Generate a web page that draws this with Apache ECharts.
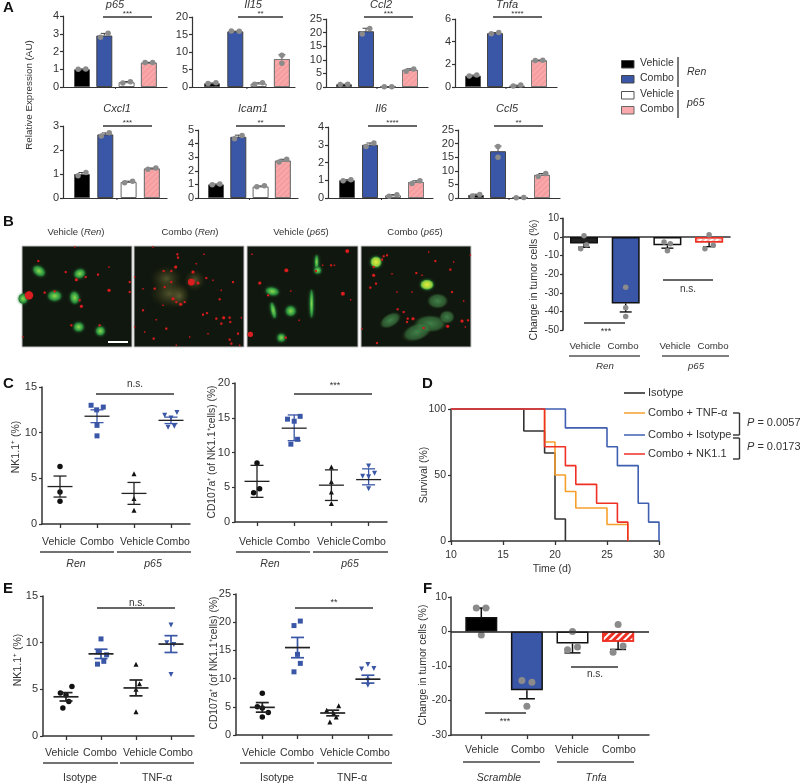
<!DOCTYPE html>
<html><head><meta charset="utf-8">
<style>html,body{margin:0;padding:0;background:#fff}#c{width:800px;height:784px}</style>
<script src="https://cdn.jsdelivr.net/npm/echarts@6/dist/echarts.min.js"></script>
</head><body><div id="c"></div>
<script>
// ---------- DATA ----------
const p65Means=[1,2.9,0.27,1.37], p65Errs=[0.02,0.12,0.04,0.02];
const p65Pts=[[.83,1],[1.17,1.02],[1.83,2.8],[2.17,3.03],[2.83,.22],[3.17,.3],[3.83,1.38],[4.17,1.38]];
const il15Means=[1.05,15.9,1,8], il15Errs=[.1,.05,.2,1.2];
const il15Pts=[[.83,1],[1.17,1.2],[1.83,16],[2.17,15.9],[2.83,.8],[3.17,1.2],[4,9.1],[4,6.8]];
const ccl2Means=[1,20.5,.08,6.3], ccl2Errs=[.05,1.1,.03,.4];
const ccl2Pts=[[.83,.9],[1.17,1.05],[1.83,19.5],[2.17,21.5],[2.83,.05],[3.17,.1],[3.83,5.8],[4.17,6.6]];
const tnfaMeans=[1,4.75,.12,2.35], tnfaErrs=[.05,.05,.04,.03];
const tnfaPts=[[.83,.97],[1.17,1.05],[1.83,4.7],[2.17,4.8],[2.83,.08],[3.17,.17],[3.83,2.33],[4.17,2.37]];
const cxcl1Means=[1,2.65,.67,1.23], cxcl1Errs=[.06,.06,.03,.02];
const cxcl1Pts=[[.83,.93],[1.17,1.06],[1.83,2.58],[2.17,2.72],[2.83,.64],[3.17,.7],[3.83,1.2],[4.17,1.25]];
const icam1Means=[1,4.5,.85,2.75], icam1Errs=[.03,.12,.04,.1];
const icam1Pts=[[.83,.97],[1.17,1.03],[1.83,4.35],[2.17,4.6],[2.83,.82],[3.17,.9],[3.83,2.65],[4.17,2.85]];
const il6Means=[1,3,.15,.9], il6Errs=[.03,.1,.04,.07];
const il6Pts=[[.83,.97],[1.17,1.03],[1.83,2.9],[2.17,3.1],[2.83,.1],[3.17,.18],[3.83,.82],[4.17,.97]];
const ccl5Means=[1.1,17.2,.2,8.5], ccl5Errs=[.3,1.9,.05,.5];
const ccl5Pts=[[.83,.7],[1.17,1.3],[2,15],[2,18.9],[2.83,.1],[3.17,.2],[3.83,7.9],[4.17,9]];

const bMeans=[-3.5,-35.8,-4.5,-3], bErrs=[2,4.5,1.5,2.2];
const bPts=[[1,.7],[1.06,-4.1],[.92,-6.3],[2,-27],[2,-38],[2,-42.8],[2.92,-2.7],[3.07,-3.6],[3,-7.4],[4,1.2],[4.1,-4.5],[3.9,-6.3]];

const c1Means=[4.1,11.8,3.35,11.35], c1Lo=[2.95,11.1,2.15,11], c1Hi=[5.25,12.5,4.55,11.7];
const c1Groups=[[[1,6.3],[1,3.5],[1,2.5]],[[1.84,13],[1.99,12.5],[2.17,12.8],[2,10.8],[2,9.65]],[[3,5.5],[3,2.8],[3,1.5]],[[3.83,11.9],[4.16,12.2],[4,11.6],[3.92,10.6],[4.09,10.7]]];
const c2Means=[5.85,13.5,5.3,6.1], c2Lo=[3.55,11.7,3.1,5.35], c2Hi=[8.15,15.4,7.5,7.65];
const c2Groups=[[[1,8.5],[1.07,4.8],[.91,4.2]],[[2.16,15.2],[1.82,14.8],[2,14.5],[2.09,11.9],[1.91,11.2]],[[3,7.9],[3,5.8],[3,4.3],[3,2.65]],[[4,8.05],[3.84,6.6],[4.16,7],[4,6.5],[4,4.8]]];

const survIsotype=[[10,100],[17,83.3],[19,66.7],[20,16.7],[21,0]];
const survTnf=[[10,100],[19,75],[20,50],[21,37.5],[22,25],[25,12.5],[27,0]];
const survCombo=[[10,100],[21,85.7],[25,71.4],[26,57.1],[28,28.6],[29,14.3],[30,0]];
const survNk=[[10,100],[19,71.4],[21,57.1],[22,42.9],[24,28.6],[26,14.3],[27,0]];

const e1Means=[4.2,8.8,5.15,9.85], e1Lo=[3.75,8.3,4.3,8.95], e1Hi=[4.65,9.3,6,10.75];
const e1Groups=[[[1.17,5.3],[.84,4.6],[1.08,3.7],[.91,3],[1,4.4]],[[2,10.4],[2.16,8.7],[1.92,9],[2.08,8],[1.9,7.7]],[[3,7.7],[3.1,5.6],[3,5],[3,2.6]],[[4,11.9],[3.88,10],[4.08,9.8],[4,6.6]]];
const e2Means=[4.9,15.5,3.9,9.9], e2Lo=[4.05,13.7,3.4,9.2], e2Hi=[5.75,17.3,4.4,10.6];
const e2Groups=[[[1,7.4],[.86,5],[1.17,4],[1,3.2],[1,4.8]],[[2.08,20.2],[1.9,19.4],[2,14.3],[2.08,12.7],[1.9,11.2]],[[3.17,5.2],[2.83,4.4],[3.03,3.8],[3.1,3.2],[2.92,2.3]],[[4,12.5],[3.82,11.7],[4.17,11.8],[4,9.7],[4,8.8]]];

const fMeans=[4.2,-17,-3.5,-3], fErrs=[2.6,2.5,2.7,2.2];
const fPts=[[.89,6.8],[1.1,6.8],[1,-1],[1.89,-14.2],[2.11,-14.7],[2,-21.7],[3,0],[3.11,-4.5],[2.89,-5.3],[4,2],[4.11,-4.2],[3.89,-6]];

// micrograph spots: [x, y, width, height, rotation]
const photo1Cells=[[51,75,13,9,-35],[173,83,11,9,20],[98,150,13,10,0],[158,155,9,12,10],[170,243,10,9,0],[235,255,9,9,0],[3,158,9,10,0]];
const photo1Red=[[21,148,11],[163,101,4],[261,133,4],[228,86,3],[131,78,3],[49,45,3],[191,93,3],[323,108,3],[323,138,3],[178,181,4],[148,238,3],[98,136,3],[68,140,3],[261,63,2],[173,163,3],[158,3,2],[3,273,2],[233,238,3]];
const photo2Haze=[[97,98,32,26,0],[107,143,40,30,0],[182,103,22,22,0],[135,150,22,24,0]];
const photo2Red=[[130,25,3],[132,35,3],[125,63,4],[112,75,3],[89,75,3],[187,53,2],[210,25,2],[57,3,2],[177,78,4],[217,96,3],[237,103,2],[297,108,3],[172,108,9],[192,111,4],[112,108,3],[62,128,3],[92,123,3],[27,128,2],[2,93,2],[117,158,4],[140,175,4],[152,168,3],[127,168,3],[87,178,2],[27,193,3],[257,160,3],[219,201,3],[207,206,3],[247,218,3],[269,215,4],[287,215,3],[262,233,3],[289,228,3],[322,215,2],[67,221,2],[97,248,3],[59,278,3],[32,258,2],[167,273,2],[222,263,2],[287,281,3],[312,263,3],[292,293,3],[317,298,2],[127,298,2],[2,243,2],[262,133,2]];
const photo3Cells=[[75,136,13,8,-10],[130,195,10,10,0],[78,193,5,16,12],[192,173,4,28,0],[207,48,4,14,0],[210,73,7,7,0],[102,275,8,8,0]];
const photo3Red=[[117,73,5],[285,143,5],[298,15,5],[38,111,4],[10,265,7],[250,58,3],[205,75,3],[115,275,3],[63,148,3],[130,135,2],[225,58,2],[155,223,2],[308,161,2],[15,25,2],[260,58,2]];
const photo4Bright=[[45,48,11,11,0],[198,116,13,10,0]];
const photo4Haze=[[230,165,22,16,0],[208,233,34,18,0],[168,258,32,18,20],[258,213,16,14,0],[88,223,24,14,30]];
const photo4Red=[[38,63,3],[38,88,4],[45,113,3],[28,125,3],[68,31,3],[78,28,3],[63,41,3],[203,18,2],[223,45,3],[268,71,3],[166,81,3],[183,88,2],[278,48,2],[328,28,2],[273,138,3],[308,165,2],[110,190,3],[128,198,3],[140,218,3],[156,218,4],[138,228,3],[188,246,3],[260,241,4],[303,225,4],[321,223,3],[313,243,2],[48,291,3],[153,138,2],[108,138,2],[3,248,2],[93,83,2]];

// ---------- STYLE ----------
const FONT='"Liberation Sans",Arial,sans-serif', TXT='#333', AX='#333';
const BLUE='#3a56a6', PINK='#f9a9ab', RED='#ee3124', GREY='#8b8b8b', DK='#222';
const grids=[],xAxes=[],yAxes=[],series=[],gfx=[];

function panel(o){
  const i=grids.length;
  grids.push({left:o.L,top:o.T,width:o.R-o.L,height:o.B-o.T,containLabel:false});
  xAxes.push({gridIndex:i,type:'value',min:1-(o.c0-o.L)/o.s,max:1+(o.R-o.c0)/o.s,
    splitLine:{show:false},axisLabel:{show:false},
    axisTick:o.ticks?{show:true,customValues:[1,2,3,4],length:4,lineStyle:{color:AX,width:1.3}}:{show:false},
    axisLine:{show:true,onZero:!!o.onZero,lineStyle:{color:AX,width:o.lw||1.4}}});
  yAxes.push({gridIndex:i,type:'value',min:o.y[0],max:o.y[1],interval:o.y[2],
    splitLine:{show:false},axisTick:{show:true,length:3,lineStyle:{color:AX,width:1.2}},
    axisLine:{show:true,onZero:false,lineStyle:{color:AX,width:o.lw||1.4}},
    axisLabel:{fontFamily:FONT,fontSize:o.fs||11,color:TXT,margin:o.m||5}});
  return i;
}
function bars(i,means,width,border,opt){
  const fills=opt.fills, bw=opt.bw||1;
  series.push({type:'bar',xAxisIndex:i,yAxisIndex:i,barWidth:width,z:2,silent:true,
    data:means.map((v,k)=>({value:[k+1,v],itemStyle:{color:fills[k],borderColor:border[k],borderWidth:bw,
      decal:k===3?opt.decal:undefined}}))});
}
function oneSideErr(i,means,errs,color,lw,cap){
  series.push({type:'custom',xAxisIndex:i,yAxisIndex:i,z:3,silent:true,clip:false,
    data:means.map((m,k)=>[k+1,m,m+(m<0?-errs[k]:errs[k])]),
    renderItem:(p,api)=>{
      const a=api.coord([api.value(0),api.value(1)]),b=api.coord([api.value(0),api.value(2)]);
      const st={stroke:color,lineWidth:lw};
      return {type:'group',children:[
        {type:'line',shape:{x1:a[0],y1:a[1],x2:b[0],y2:b[1]},style:st},
        {type:'line',shape:{x1:b[0]-cap,y1:b[1],x2:b[0]+cap,y2:b[1]},style:st}]};
    }});
}
function points(i,data,size,color,symbol,rot){
  series.push({type:'scatter',xAxisIndex:i,yAxisIndex:i,z:4,silent:true,clip:false,data,
    symbol:symbol||'circle',symbolSize:size,symbolRotate:rot||0,itemStyle:{color,opacity:1}});
}
function meanErr(i,means,lo,hi,colors,half,cap,lw){
  series.push({type:'custom',xAxisIndex:i,yAxisIndex:i,z:5,silent:true,clip:false,
    data:means.map((m,k)=>[k+1,m,lo[k],hi[k],k]),
    renderItem:(p,api)=>{
      const x=api.value(0),c=api.coord([x,api.value(1)]),l=api.coord([x,api.value(2)]),h=api.coord([x,api.value(3)]);
      const st={stroke:colors[api.value(4)],lineWidth:lw};
      const L=(x1,y1,x2,y2,s)=>({type:'line',shape:{x1,y1,x2,y2},style:s||st});
      return {type:'group',children:[
        L(c[0],l[1],c[0],h[1]),L(c[0]-cap,l[1],c[0]+cap,l[1]),L(c[0]-cap,h[1],c[0]+cap,h[1]),
        L(c[0]-half,c[1],c[0]+half,c[1],{stroke:DK,lineWidth:lw})]};
    }});
}
// ---------- annotation helpers ----------
function T(x,y,text,o){o=o||{};
  gfx.push({type:'text',x,y,rotation:o.rot||0,silent:true,z:20,style:{text,fontFamily:o.font||FONT,fontSize:o.fs||10.5,
    fontStyle:o.it?'italic':'normal',fontWeight:o.bold?'bold':'normal',fill:o.color||TXT,
    align:o.align||'center',verticalAlign:'middle',rich:o.rich}});
}
function Ln(x1,y1,x2,y2,w,c){gfx.push({type:'line',silent:true,z:20,shape:{x1,y1,x2,y2},style:{stroke:c||'#333',lineWidth:w||1.4}});}
function sig(x1,x2,y,txt,tx,ty,fs){Ln(x1,y,x2,y,1.4);T(tx,ty,txt,{fs:fs||10});}

// ---------- PANEL A ----------
const A_FILL=['#000',BLUE,'#fff',PINK], A_BORD=['#555','#444','#666','#777'];
const A_DECAL={symbol:'rect',color:'rgba(225,90,90,.16)',dashArrayX:[1,0],dashArrayY:[2,2],rotation:-0.78};
const aPanels=[
 {t:'p65',m:p65Means,e:p65Errs,p:p65Pts,L:63,R:167,T:16,B:87,c0:82,s:22.3,y:[0,4,1],sx:[103,152],st:'***',sy:17,tx:115,my:5},
 {t:'Il15',m:il15Means,e:il15Errs,p:il15Pts,L:192,R:295,T:17,B:87,c0:212,s:23.3,y:[0,20,5],sx:[238,283],st:'**',sy:17,tx:253,my:5},
 {t:'Ccl2',m:ccl2Means,e:ccl2Errs,p:ccl2Pts,L:326,R:428,T:19,B:87,c0:344,s:22,y:[0,25,5],sx:[364,413],st:'***',sy:17,tx:381,my:5},
 {t:'Tnfa',m:tnfaMeans,e:tnfaErrs,p:tnfaPts,L:455,R:557,T:19,B:87,c0:473,s:22,y:[0,6,2],sx:[493,542],st:'****',sy:17,tx:507,my:5},
 {t:'Cxcl1',m:cxcl1Means,e:cxcl1Errs,p:cxcl1Pts,L:63,R:167,T:126,B:198,c0:82,s:23.3,y:[0,3,1],sx:[103,152],st:'***',sy:126,tx:117,my:109},
 {t:'Icam1',m:icam1Means,e:icam1Errs,p:icam1Pts,L:198,R:298,T:130,B:198,c0:216,s:22.3,y:[0,5,1],sx:[236,285],st:'**',sy:126,tx:253,my:109},
 {t:'Il6',m:il6Means,e:il6Errs,p:il6Pts,L:328,R:433,T:127,B:198,c0:347,s:23,y:[0,4,1],sx:[368,417],st:'****',sy:126,tx:381,my:109},
 {t:'Ccl5',m:ccl5Means,e:ccl5Errs,p:ccl5Pts,L:458,R:560,T:130,B:198,c0:476,s:22,y:[0,25,5],sx:[494,543],st:'**',sy:126,tx:507,my:109}
];
aPanels.forEach(a=>{
  const i=panel({L:a.L,R:a.R,T:a.T,B:a.B,c0:a.c0,s:a.s,y:a.y,lw:1.2,fs:11,m:4});
  bars(i,a.m,16,A_BORD,{fills:A_FILL,decal:A_DECAL,bw:1});
  oneSideErr(i,a.m,a.e,'#444',1,3.5);
  points(i,a.p,5.5,GREY);
  T(a.tx,a.my,a.t,{it:true,fs:11});
  Ln(a.sx[0],a.sy,a.sx[1],a.sy,1.4);
  T((a.sx[0]+a.sx[1])/2,a.sy-3,a.st,{fs:8});
  const mid=a.c0+1.5*a.s; Ln(mid,a.B,mid,a.B+2,1,'#333');
});
T(29,95,'Relative Expression (AU)',{rot:Math.PI/2,fs:9.8});
// legend of A
[[64,'#000','#444','Vehicle'],[79,BLUE,'#444','Combo'],[95,'#fff','#555','Vehicle'],[110,PINK,'#666','Combo']].forEach(l=>{
  gfx.push({type:'rect',silent:true,z:20,shape:{x:621.5,y:l[0]-3.5,width:12.5,height:7.5},style:{fill:l[1],stroke:l[2],lineWidth:1}});
  T(640,l[0]-.5,l[3],{align:'left'});
});
Ln(678,57,678,87,1.3);Ln(678,90,678,118,1.3);
T(687,72,'Ren',{it:true,align:'left'});T(687,103,'p65',{it:true,align:'left'});

// ---------- PANEL B ----------
[[76,'Vehicle ({i|Ren})'],[190,'Combo ({i|Ren})'],[301,'Vehicle ({i|p65})'],[415,'Combo ({i|p65})']].forEach(t=>
  T(t[0],232,t[1],{fs:9.5,rich:{i:{fontStyle:'italic',fontSize:9.5,fontFamily:FONT,fill:TXT}}}));
const CELL={type:'radial',x:.5,y:.5,r:.5,colorStops:[{offset:0,color:'#8ed84c'},{offset:.6,color:'#3fa845'},{offset:1,color:'#1c6a30'}]};
const YEL={type:'radial',x:.5,y:.5,r:.5,colorStops:[{offset:0,color:'#e8ec3a'},{offset:.7,color:'#9ad040'},{offset:1,color:'#2f8a30'}]};
const HAZE={type:'radial',x:.5,y:.5,r:.5,colorStops:[{offset:0,color:'rgba(70,140,80,.9)'},{offset:.7,color:'rgba(60,120,65,.65)'},{offset:1,color:'rgba(40,70,30,0)'}]};
const HAZE2={type:'radial',x:.5,y:.5,r:.5,colorStops:[{offset:0,color:'rgba(110,110,60,.7)'},{offset:1,color:'rgba(60,60,20,0)'}]};
function photo(L,R,layers){
  const i=grids.length;
  grids.push({left:L,top:246,width:R-L,height:101,show:true,backgroundColor:'#10170e',borderColor:'#c4c4c4',borderWidth:1});
  xAxes.push({gridIndex:i,type:'value',min:0,max:330,show:false});
  yAxes.push({gridIndex:i,type:'value',min:0,max:303,inverse:true,show:false});
  layers.forEach(l=>series.push({type:'scatter',xAxisIndex:i,yAxisIndex:i,z:l.z||2,silent:true,clip:true,data:l.d,
    symbolSize:v=>v.length>3?[v[2],v[3]]:v[2]*0.75,symbolRotate:v=>v.length>4?v[4]:0,
    itemStyle:{color:l.c,opacity:1,shadowBlur:l.b||0,shadowColor:l.sc||'transparent'}}));
}
const RD='#d81e1e';
photo(22,132,[{d:photo1Cells,c:CELL,b:3,sc:'#2a8a3a'},{d:photo1Red,c:RD,b:1,sc:'#801010',z:3}]);
photo(134,244,[{d:photo2Haze,c:HAZE2},{d:photo2Red,c:RD,b:1,sc:'#801010',z:3}]);
photo(247,358,[{d:photo3Cells,c:CELL,b:3,sc:'#2a8a3a'},{d:photo3Red,c:RD,b:1,sc:'#801010',z:3}]);
photo(361,471,[{d:photo4Haze,c:HAZE},{d:photo4Bright,c:YEL,b:3,sc:'#2a8a3a'},{d:photo4Red,c:RD,b:1,sc:'#801010',z:3}]);
gfx.push({type:'rect',silent:true,z:20,shape:{x:108,y:341,width:20,height:2},style:{fill:'#fff'}});

const bi=panel({L:563,R:730,T:218.4,B:330,c0:584,s:41.7,y:[-50,10,10],onZero:true,lw:1.6,fs:10,m:4});
bars(bi,bMeans,28,['#111','#111','#111',RED],{fills:['#222',BLUE,'#fff','#fff'],bw:1.5,
  decal:{symbol:'rect',color:'#f3b8b0',dashArrayX:[1,0],dashArrayY:[2,2],rotation:-0.78}});
oneSideErr(bi,bMeans,bErrs,'#111',1.4,6);
points(bi,bPts,5.5,GREY);
T(534,280,'Change in tumor cells (%)',{rot:Math.PI/2,fs:10.5});
sig(584,625,323,'***',606,332,9);
sig(663,713,280,'n.s.',688,289,10);
[[585,'Vehicle'],[623,'Combo'],[675,'Vehicle'],[713,'Combo']].forEach(t=>T(t[0],346,t[1],{fs:9.7}));
Ln(569,356,640,356,1.4,'#555');Ln(662,356,729,356,1.4,'#555');
T(605,366,'Ren',{it:true,fs:9.7});T(696,366,'p65',{it:true,fs:9.7});

// ---------- PANELS C / E ----------
const GCOL=[DK,BLUE,DK,BLUE];
function scatterPanel(o){
  const i=panel({L:o.L,R:o.R,T:o.T,B:o.B,c0:o.c0,s:o.s,y:o.y,ticks:true,lw:1.5,fs:11,m:5});
  o.groups.forEach((g,k)=>{
    const sym=['circle','rect','triangle','triangle'][k];
    points(i,g,[5.5,5,5,5][k],k%2?BLUE:'#111',sym,k===3?180:0);
  });
  meanErr(i,o.m,o.lo,o.hi,o.gcol||GCOL,12.5,o.cap||6.5,o.lw||1.3);
  return i;
}
scatterPanel({L:42,R:190,T:387,B:524,c0:60,s:37,y:[0,15,5],groups:c1Groups,m:c1Means,lo:c1Lo,hi:c1Hi});
scatterPanel({L:235,R:387,T:383,B:522,c0:257,s:37.2,y:[0,20,5],groups:c2Groups,m:c2Means,lo:c2Lo,hi:c2Hi});
scatterPanel({L:43,R:194,T:596,B:736,c0:66,s:35,y:[0,15,5],groups:e1Groups,m:e1Means,lo:e1Lo,hi:e1Hi,lw:1.7});
scatterPanel({L:236,R:392,T:594,B:735,c0:262.3,s:35.2,y:[0,25,5],groups:e2Groups,m:e2Means,lo:e2Lo,hi:e2Hi,lw:1.7});

T(16,447,'NK1.1⁺ (%)',{rot:Math.PI/2,fs:10.5});
T(212,452,'CD107a⁺ (of NK1.1⁺cells) (%)',{rot:Math.PI/2,fs:10.3});
sig(96,174,394,'n.s.',135,384,10);
sig(294,372,394,'***',335,386,9);
[[59,'Vehicle'],[97,'Combo'],[137,'Vehicle'],[173,'Combo'],[256,'Vehicle'],[293,'Combo'],[334,'Vehicle'],[369,'Combo']].forEach(t=>T(t[0],542,t[1]));
[[40,114],[117,191],[236,310],[313,388]].forEach(s=>Ln(s[0],552,s[1],552,1.4,'#444'));
[[76,'Ren'],[153,'p65'],[270,'Ren'],[350,'p65']].forEach(t=>T(t[0],564,t[1],{it:true}));

T(18,660,'NK1.1⁺ (%)',{rot:Math.PI/2,fs:10.5});
T(214,663,'CD107a⁺ (of NK1.1⁺cells) (%)',{rot:Math.PI/2,fs:10.3});
sig(97,175,608,'n.s.',137,603,10);
sig(295,373,608,'**',334,603,9);
[[62,'Vehicle'],[100,'Combo'],[140,'Vehicle'],[176,'Combo'],[259,'Vehicle'],[297,'Combo'],[337,'Vehicle'],[373,'Combo']].forEach(t=>T(t[0],753,t[1]));
[[43,118],[120,194],[240,314],[317,392]].forEach(s=>Ln(s[0],763,s[1],763,1.4,'#444'));
[[80,'Isotype'],[157,'TNF-α'],[277,'Isotype'],[352,'TNF-α']].forEach(t=>T(t[0],778,t[1]));

// ---------- PANEL D ----------
{
  const i=grids.length;
  grids.push({left:451,top:409,width:208,height:132});
  xAxes.push({gridIndex:i,type:'value',min:10,max:30,interval:5,splitLine:{show:false},
    axisTick:{length:4,lineStyle:{color:AX,width:1.3}},axisLine:{lineStyle:{color:AX,width:1.5}},
    axisLabel:{fontFamily:FONT,fontSize:10.5,color:TXT,margin:9}});
  yAxes.push({gridIndex:i,type:'value',min:0,max:100,interval:50,splitLine:{show:false},
    axisTick:{length:3,lineStyle:{color:AX,width:1.2}},axisLine:{show:true,onZero:false,lineStyle:{color:AX,width:1.5}},
    axisLabel:{fontFamily:FONT,fontSize:10.5,color:TXT,margin:5}});
  [[survIsotype,'#333'],[survTnf,'#f6a02c'],[survCombo,'#3f5fb0'],[survNk,RED]].forEach((s,k)=>
    series.push({type:'line',step:'end',xAxisIndex:i,yAxisIndex:i,z:3+k,silent:true,showSymbol:false,clip:false,data:s[0],
      lineStyle:{color:s[1],width:1.6},itemStyle:{color:s[1]}}));
}
T(424,475,'Survival (%)',{rot:Math.PI/2,fs:10.5});
T(552,569,'Time (d)');
[[393,'#222','Isotype'],[413,'#f6a02c','Combo + TNF-α'],[435,'#3f5fb0','Combo + Isotype'],[454,RED,'Combo + NK1.1']].forEach(l=>{
  Ln(624,l[0],645,l[0],1.5,l[1]);T(648,l[0],l[2],{align:'left',fs:11});
});
Ln(733,413,739.5,413,1.4);Ln(739.5,413,739.5,435,1.4);Ln(733,435,739.5,435,1.4);
Ln(733,438,739.5,438,1.4);Ln(739.5,438,739.5,459,1.4);Ln(733,459,739.5,459,1.4);
const PR={i:{fontStyle:'italic',fontSize:11,fontFamily:FONT,fill:TXT},n:{fontSize:11,fontFamily:FONT,fill:TXT}};
T(747,423,'{i|P}{n| = 0.0057}',{align:'left',rich:PR,fs:11});
T(747,447,'{i|P}{n| = 0.0173}',{align:'left',rich:PR,fs:11});

// ---------- PANEL F ----------
const fi=panel({L:451,R:649,T:597,B:735,c0:481.3,s:45.6,y:[-30,10,10],ticks:true,lw:1.5,fs:10.5,m:4});
bars(fi,fMeans,32,['#111','#111','#111',RED],{fills:['#000',BLUE,'#fff','#fff'],bw:1.5,
  decal:{symbol:'rect',color:RED,dashArrayX:[1,0],dashArrayY:[3,2],rotation:-0.78}});
series[series.length-1].markLine={silent:true,symbol:'none',label:{show:false},lineStyle:{color:'#222',width:1.5,type:'solid'},data:[{yAxis:0}],animation:false};
oneSideErr(fi,fMeans,fErrs,'#111',1.5,8);
points(fi,fPts,7,GREY);
T(423,665,'Change in tumor cells (%)',{rot:Math.PI/2,fs:10.5});
sig(485,526,713,'***',505,722,9);
sig(571,618,667,'n.s.',595,674,10);
[[482,'Vehicle'],[528,'Combo'],[572,'Vehicle'],[619,'Combo']].forEach(t=>T(t[0],750,t[1]));
Ln(463,762,540,762,1.4,'#444');Ln(557,762,634,762,1.4,'#444');
T(499,778,'Scramble',{it:true});T(596,778,'Tnfa',{it:true});

// ---------- panel letters ----------
[[3,8,'A'],[3,222,'B'],[3,384,'C'],[422,384,'D'],[3,589,'E'],[423,589,'F']].forEach(l=>
  T(l[0],l[1],l[2],{align:'left',bold:true,fs:15,color:'#111',font:'"Liberation Sans Narrow","Liberation Sans",sans-serif'}));

const chart=echarts.init(document.getElementById('c'),null,{renderer:'canvas'});
chart.setOption({animation:false,backgroundColor:'#fff',grid:grids,xAxis:xAxes,yAxis:yAxes,series,graphic:{elements:gfx}});
</script></body></html>
